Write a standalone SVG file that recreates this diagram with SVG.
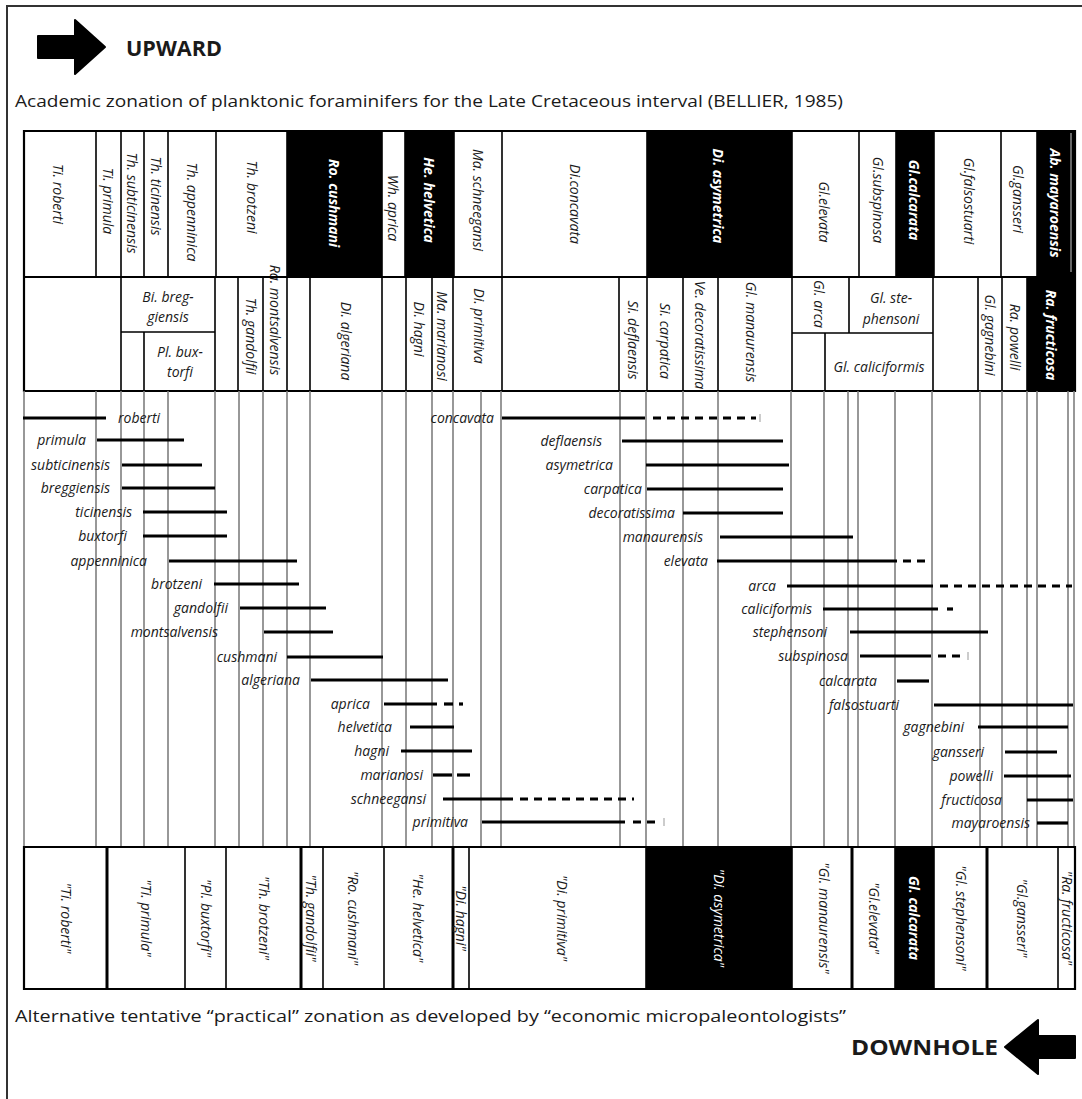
<svg xmlns="http://www.w3.org/2000/svg" width="1082" height="1099" viewBox="0 0 1082 1099">
<style>
text{font-family:"Open Sans","Noto Sans",sans-serif;fill:#1a1a1a}
.t{font-size:17px}
.big{font-size:21px;font-weight:bold}
.hd{font-size:14px;font-style:italic;text-anchor:middle;dominant-baseline:central}
.hw{fill:#fff;font-weight:bold}
.wt{fill:#fff}
.hz{font-size:14px;font-style:italic;text-anchor:middle}
.lab{font-size:14px;font-style:italic;text-anchor:end}
.bk{stroke:#000;stroke-width:1.6;fill:none}
.bd{stroke:#000;stroke-width:2.2;fill:none}
.th{stroke:#000;stroke-width:3;fill:none}
.gl{stroke:#7f7f7f;stroke-width:1.6}
.bar{stroke:#000;stroke-width:3.2}
.dsh{stroke:#000;stroke-width:3.2;stroke-dasharray:8 6}
.tick{stroke:#bbb;stroke-width:1.5}
</style>
<rect x="0" y="0" width="1082" height="1099" fill="#fff"/>
<g id="frame"><path d="M7,1099 V6 H1082" stroke="#333" stroke-width="2" fill="none"/></g>
<g id="upward">
<polygon points="38,36 75,36 75,20 105,47 75,74 75,58 38,58" fill="#000" stroke="#000" stroke-width="2" stroke-linejoin="round"/>
<text class="big" x="126" y="56" textLength="96" lengthAdjust="spacingAndGlyphs">UPWARD</text>
</g>
<text id="title-top" class="t" x="15" y="107" textLength="828" lengthAdjust="spacingAndGlyphs">Academic zonation of planktonic foraminifers for the Late Cretaceous interval (BELLIER, 1985)</text>

<g id="row1">
<rect x="287" y="131" width="95" height="146" fill="#000"/>
<rect x="405" y="131" width="49" height="146" fill="#000"/>
<rect x="647" y="131" width="145" height="146" fill="#000"/>
<rect x="896" y="131" width="38" height="146" fill="#000"/>
<rect x="1037" y="131" width="38" height="146" fill="#000"/>
<line x1="1071" y1="133" x2="1071" y2="272" stroke="#ccc" stroke-width="1"/>
<path class="bk" d="M96,131V277 M121,131V277 M144,131V277 M168,131V277 M216,131V277 M287,131V277 M382,131V277 M405,131V277 M454,131V277 M502,131V277 M647,131V277 M792,131V277 M859,131V277 M896,131V277 M934,131V277 M1001,131V277 M1037,131V277"/>
<text class="hd" transform="translate(58,194) rotate(90)">Ti. roberti</text>
<text class="hd" transform="translate(108,201) rotate(90)">Ti. primula</text>
<text class="hd" transform="translate(132,203) rotate(90)">Th. subticinensis</text>
<text class="hd" transform="translate(156,196) rotate(90)">Th. ticinensis</text>
<text class="hd" transform="translate(192,212) rotate(90)">Th. appenninica</text>
<text class="hd" transform="translate(252,197) rotate(90)">Th. brotzeni</text>
<text class="hd hw" transform="translate(334,203) rotate(90)">Ro. cushmani</text>
<text class="hd" transform="translate(393,208) rotate(90)">Wh. aprica</text>
<text class="hd hw" transform="translate(429,200) rotate(90)">He. helvetica</text>
<text class="hd" transform="translate(478,200) rotate(90)">Ma. schneegansi</text>
<text class="hd" transform="translate(575,204) rotate(90)">Di.concavata</text>
<text class="hd hw" transform="translate(718,196) rotate(90)">Di. asymetrica</text>
<text class="hd" transform="translate(824,212) rotate(90)">Gl.elevata</text>
<text class="hd" transform="translate(878,200) rotate(90)">Gl.subspinosa</text>
<text class="hd hw" transform="translate(914,200) rotate(90)">Gl.calcarata</text>
<text class="hd" transform="translate(969,201) rotate(90)">Gl.falsostuarti</text>
<text class="hd" transform="translate(1018,199) rotate(90)">Gl.gansseri</text>
<text class="hd hw" transform="translate(1055,203) rotate(90)">Ab. mayaroensis</text>
</g>

<g id="row2">
<rect x="1027" y="277" width="48" height="114" fill="#000"/>
<path class="bk" d="M121,277V391 M144,332V391 M121,332H215 M215,277V391 M238,277V391 M263,277V391 M287,277V391 M310,277V391 M382,277V391 M406,277V391 M432,277V391 M453,277V391 M502,277V391 M619,277V391 M647,277V391 M683,277V391 M718,277V391 M792,277V391 M849,277V333 M792,333H933 M825,333V391 M933,277V391 M978,277V391 M1002,277V391 M1027,277V391"/>
<text class="hz" x="168" y="302">Bi. breg-</text>
<text class="hz" x="168" y="322">giensis</text>
<text class="hz" x="180" y="357">Pl. bux-</text>
<text class="hz" x="180" y="377">torfi</text>
<text class="hd" transform="translate(251,336) rotate(90)">Th. gandolfii</text>
<text class="hd" transform="translate(275,320) rotate(90)">Ra. montsalvensis</text>
<text class="hd" transform="translate(346,341) rotate(90)">Di. algeriana</text>
<text class="hd" transform="translate(419,329) rotate(90)">Di. hagni</text>
<text class="hd" transform="translate(442,336) rotate(90)">Ma. marianosi</text>
<text class="hd" transform="translate(479,326) rotate(90)">Di. primitiva</text>
<text class="hd" transform="translate(633,340) rotate(90)">Si. deflaensis</text>
<text class="hd" transform="translate(665,341) rotate(90)">Si. carpatica</text>
<text class="hd" transform="translate(700,335) rotate(90)">Ve. decoratissima</text>
<text class="hd" transform="translate(751,332) rotate(90)">Gl. manaurensis</text>
<text class="hd" transform="translate(819,304) rotate(90)">Gl. arca</text>
<text class="hz" x="891" y="303">Gl. ste-</text>
<text class="hz" x="891" y="324">phensoni</text>
<text class="hz" x="879" y="372">Gl. caliciformis</text>
<text class="hd" transform="translate(990,335) rotate(90)">Gl. gagnebini</text>
<text class="hd" transform="translate(1015,337) rotate(90)">Ra. powelli</text>
<text class="hd hw" transform="translate(1051,335) rotate(90)">Ra. fructicosa</text>
</g>

<g id="table-borders">
<path class="bd" d="M24,131H1075V391H24Z M24,277H1075"/>
</g>

<g id="range-grid">
<path class="gl" d="M24,391V847 M96,391V847 M121,391V847 M144,391V847 M168,391V847 M215,391V847 M239,391V847 M263,391V847 M287,391V847 M310,391V847 M382,391V847 M406,391V847 M432,391V847 M453,391V847 M481,391V847 M501,391V847 M620,391V847 M646,391V847 M683,391V847 M718,391V847 M791,391V847 M824,391V847 M848,391V847 M858,391V847 M895,391V847 M932,391V847 M980,391V847 M1002,391V847 M1027,391V847 M1037,391V847 M1068,391V847 M1074,391V847"/>
</g>

<g id="ranges">
<line class="bar" x1="23" y1="418" x2="106" y2="418"/>
<line class="bar" x1="97" y1="440" x2="184" y2="440"/>
<line class="bar" x1="122" y1="465" x2="202" y2="465"/>
<line class="bar" x1="122" y1="488" x2="215" y2="488"/>
<line class="bar" x1="143" y1="512" x2="227" y2="512"/>
<line class="bar" x1="143" y1="536" x2="227" y2="536"/>
<line class="bar" x1="169" y1="561" x2="297" y2="561"/>
<line class="bar" x1="214" y1="584" x2="299" y2="584"/>
<line class="bar" x1="240" y1="608" x2="326" y2="608"/>
<line class="bar" x1="264" y1="632" x2="333" y2="632"/>
<line class="bar" x1="287" y1="657" x2="383" y2="657"/>
<line class="bar" x1="311" y1="680" x2="448" y2="680"/>
<line class="bar" x1="384" y1="704" x2="437" y2="704"/>
<line class="bar" x1="444" y1="704" x2="453" y2="704"/>
<line class="bar" x1="459" y1="704" x2="463" y2="704"/>
<line class="bar" x1="410" y1="727" x2="454" y2="727"/>
<line class="bar" x1="401" y1="751" x2="472" y2="751"/>
<line class="bar" x1="433" y1="775" x2="452" y2="775"/>
<line class="bar" x1="457" y1="775" x2="470" y2="775"/>
<line class="bar" x1="443" y1="799" x2="513" y2="799"/>
<line class="dsh" x1="520" y1="799" x2="634" y2="799"/>
<line class="bar" x1="482" y1="822" x2="625" y2="822"/>
<line class="dsh" x1="633" y1="822" x2="657" y2="822"/>
<line class="tick" x1="664" y1="818" x2="664" y2="826"/>
<line class="bar" x1="502" y1="418" x2="645" y2="418"/>
<line class="dsh" x1="653" y1="418" x2="756" y2="418"/>
<line class="tick" x1="760" y1="414" x2="760" y2="422"/>
<line class="bar" x1="622" y1="441" x2="783" y2="441"/>
<line class="bar" x1="646" y1="465" x2="789" y2="465"/>
<line class="bar" x1="647" y1="489" x2="783" y2="489"/>
<line class="bar" x1="683" y1="513" x2="783" y2="513"/>
<line class="bar" x1="720" y1="537" x2="853" y2="537"/>
<line class="bar" x1="717" y1="561" x2="897" y2="561"/>
<line class="dsh" x1="903" y1="561" x2="927" y2="561"/>
<line class="bar" x1="787" y1="586" x2="933" y2="586"/>
<line class="dsh" x1="940" y1="586" x2="1072" y2="586"/>
<line class="bar" x1="823" y1="609" x2="938" y2="609"/>
<line class="bar" x1="947" y1="609" x2="953" y2="609"/>
<line class="bar" x1="850" y1="632" x2="988" y2="632"/>
<line class="bar" x1="860" y1="656" x2="931" y2="656"/>
<line class="dsh" x1="938" y1="656" x2="962" y2="656"/>
<line class="tick" x1="968" y1="652" x2="968" y2="660"/>
<line class="bar" x1="897" y1="681" x2="929" y2="681"/>
<line class="bar" x1="934" y1="705" x2="1073" y2="705"/>
<line class="bar" x1="978" y1="727" x2="1068" y2="727"/>
<line class="bar" x1="1005" y1="752" x2="1057" y2="752"/>
<line class="bar" x1="1004" y1="776" x2="1071" y2="776"/>
<line class="bar" x1="1027" y1="800" x2="1073" y2="800"/>
<line class="bar" x1="1037" y1="823" x2="1068" y2="823"/>
</g>

<g id="range-labels">
<text class="lab" x="118" y="423" style="text-anchor:start">roberti</text>
<text class="lab" x="86" y="445">primula</text>
<text class="lab" x="110" y="470">subticinensis</text>
<text class="lab" x="110" y="493">breggiensis</text>
<text class="lab" x="132" y="517">ticinensis</text>
<text class="lab" x="127" y="541">buxtorfi</text>
<text class="lab" x="147" y="566">appenninica</text>
<text class="lab" x="202" y="589">brotzeni</text>
<text class="lab" x="228" y="613">gandolfii</text>
<text class="lab" x="218" y="637">montsalvensis</text>
<text class="lab" x="277" y="662">cushmani</text>
<text class="lab" x="300" y="685">algeriana</text>
<text class="lab" x="370" y="709">aprica</text>
<text class="lab" x="392" y="732">helvetica</text>
<text class="lab" x="389" y="756">hagni</text>
<text class="lab" x="423" y="780">marianosi</text>
<text class="lab" x="426" y="804">schneegansi</text>
<text class="lab" x="468" y="827">primitiva</text>
<text class="lab" x="494" y="423">concavata</text>
<text class="lab" x="602" y="446">deflaensis</text>
<text class="lab" x="613" y="470">asymetrica</text>
<text class="lab" x="642" y="494">carpatica</text>
<text class="lab" x="675" y="518">decoratissima</text>
<text class="lab" x="703" y="542">manaurensis</text>
<text class="lab" x="708" y="566">elevata</text>
<text class="lab" x="776" y="591">arca</text>
<text class="lab" x="812" y="614">caliciformis</text>
<text class="lab" x="827" y="637">stephensoni</text>
<text class="lab" x="848" y="661">subspinosa</text>
<text class="lab" x="877" y="686">calcarata</text>
<text class="lab" x="899" y="710">falsostuarti</text>
<text class="lab" x="964" y="732">gagnebini</text>
<text class="lab" x="984" y="757">gansseri</text>
<text class="lab" x="993" y="781">powelli</text>
<text class="lab" x="1002" y="805">fructicosa</text>
<text class="lab" x="1030" y="828">mayaroensis</text>
</g>

<g id="row-practical">
<rect x="646" y="847" width="146" height="142" fill="#000"/>
<rect x="895" y="847" width="39" height="142" fill="#000"/>
<path class="bk" d="M185,847V989 M226,847V989 M323,847V989 M384,847V989 M469,847V989 M646,847V989 M792,847V989 M895,847V989 M934,847V989 M1058,847V989"/>
<path class="th" d="M107,847V989 M301,847V989 M453,847V989 M852,847V989 M987,847V989"/>
<path class="bd" d="M24,847H1075V989H24Z"/>
<text class="hd" transform="translate(66,918) rotate(90)">"Ti. roberti"</text>
<text class="hd" transform="translate(146,918) rotate(90)">"Ti. primula"</text>
<text class="hd" transform="translate(206,918) rotate(90)">"Pl. buxtorfi"</text>
<text class="hd" transform="translate(264,918) rotate(90)">"Th. brotzeni"</text>
<text class="hd" transform="translate(311,918) rotate(90)">"Th. gandolfii"</text>
<text class="hd" transform="translate(353,918) rotate(90)">"Ro. cushmani"</text>
<text class="hd" transform="translate(418,918) rotate(90)">"He. helvetica"</text>
<text class="hd" transform="translate(461,918) rotate(90)">"Di. hagni"</text>
<text class="hd" transform="translate(562,918) rotate(90)">"Di. primitiva"</text>
<text class="hd wt" transform="translate(719,918) rotate(90)">"Di. asymetrica"</text>
<text class="hd" transform="translate(824,918) rotate(90)">"Gl. manaurensis"</text>
<text class="hd" transform="translate(874,918) rotate(90)">"Gl.elevata"</text>
<text class="hd hw" transform="translate(914,918) rotate(90)">Gl. calcarata</text>
<text class="hd" transform="translate(961,918) rotate(90)">"Gl. stephensoni"</text>
<text class="hd" transform="translate(1022,918) rotate(90)">"Gl.gansseri"</text>
<text class="hd" transform="translate(1067,918) rotate(90)">"Ra. fructicosa"</text>
</g>

<text id="title-bottom" class="t" x="15" y="1022" textLength="831" lengthAdjust="spacingAndGlyphs">Alternative tentative “practical” zonation as developed by “economic micropaleontologists”</text>
<g id="downhole">
<text class="big" x="851" y="1055" textLength="147" lengthAdjust="spacingAndGlyphs">DOWNHOLE</text>
<polygon points="1075,1036 1038,1036 1038,1020 1005,1047 1038,1074 1038,1058 1075,1058" fill="#000" stroke="#000" stroke-width="2" stroke-linejoin="round"/>
</g>
</svg>
